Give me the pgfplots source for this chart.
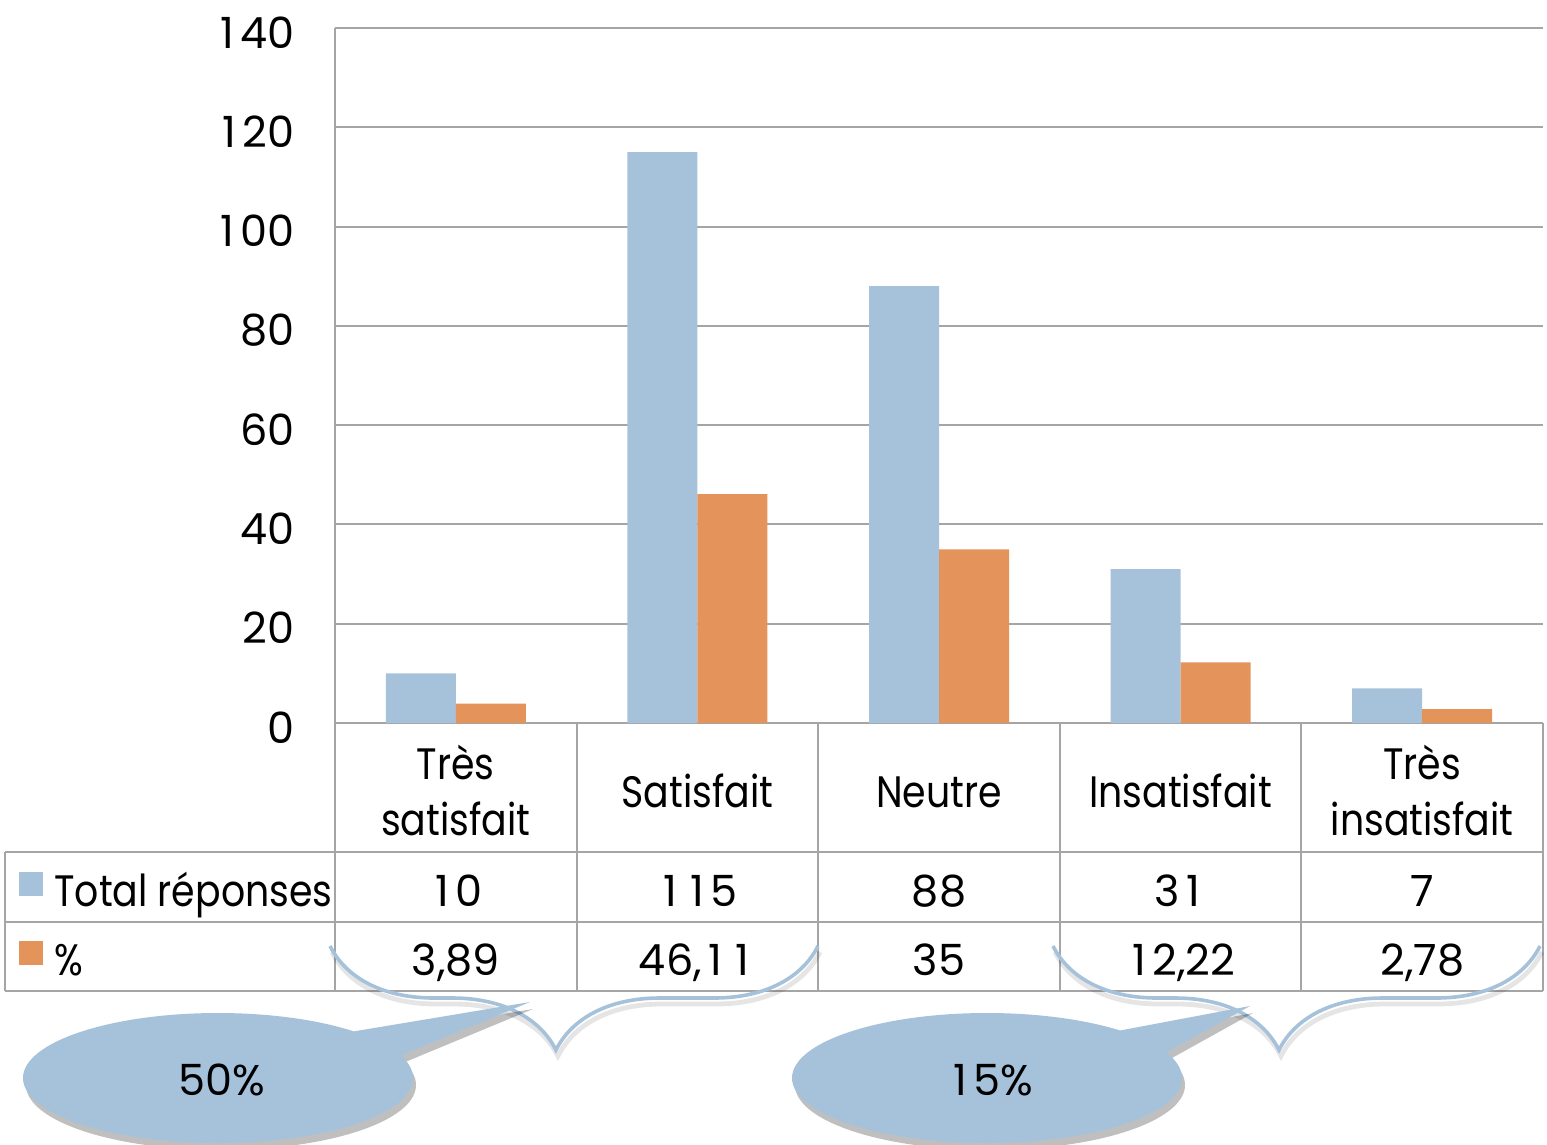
\documentclass[border=0pt]{standalone}
\usepackage{pgfplots}
\pgfplotsset{compat=1.18}
\usepackage{fontspec}
\setmainfont[FakeStretch=0.86]{Poppins}
\newfontfamily\numfont{Poppins}
\usetikzlibrary{decorations.pathreplacing,shadows}
\definecolor{barblue}{RGB}{166,194,219}
\definecolor{barorange}{RGB}{228,147,90}
\definecolor{linegray}{RGB}{165,165,165}
\newcommand{\cf}{\fontsize{22}{26}\selectfont}
\newcommand{\nf}{\numfont\fontsize{21.5}{26}\selectfont}
% tabular-width "1", as in the reference font
\newcommand{\one}{\makebox[\fontcharwd\font`0]{1}}

\begin{document}
\begin{tikzpicture}
\useasboundingbox (0pt,0pt) rectangle (773.5pt,-572.5pt);
\begin{axis}[
  at={(167.5pt,-361.5pt)}, anchor=south west,
  width=604pt, height=347.5pt, scale only axis,
  xmin=-0.5, xmax=4.5, ymin=0, ymax=140,
  ytick={0,20,...,140}, xtick=\empty,
  yticklabels={0,20,40,60,80,\one00,\one20,\one40},
  axis x line*=bottom, axis y line*=left,
  axis line style={linegray, line width=1pt, -},
  ymajorgrids, grid style={linegray, line width=1pt},
  major tick length=0pt,
  ybar=0pt, bar width=35pt,
  yticklabel style={font=\nf, anchor=base east, inner sep=0pt, xshift=-20pt, yshift=-10pt},
  /pgf/number format/assume math mode=true,
  clip=false,
]
\addplot[fill=barblue, draw=none] coordinates {(0,10) (1,115) (2,88) (3,31) (4,7)};
\addplot[fill=barorange, draw=none] coordinates {(0,3.89) (1,46.11) (2,35) (3,12.22) (4,2.78)};
\end{axis}
\begin{scope}[x=0.5pt, y=-0.5pt]
  % table grid
  \draw[linegray, line width=1pt]
    (335,723) -- (335,991)
    (576.6,723) -- (576.6,991)
    (818.2,723) -- (818.2,991)
    (1059.8,723) -- (1059.8,991)
    (1301.4,723) -- (1301.4,991)
    (1543,723) -- (1543,991)
    (5,852) -- (5,991)
    (5,852) -- (1543,852)
    (5,922) -- (1543,922)
    (5,991) -- (1543,991);
  % header row
  \begin{scope}[every node/.style={anchor=base, inner sep=0pt, font=\cf}]
    \node at (455.8,779) {Très};
    \node at (455.8,835) {satisfait};
    \node at (697.4,807) {Satisfait};
    \node at (939,807) {Neutre};
    \node at (1180.6,807) {Insatisfait};
    \node at (1422.2,779) {Très};
    \node at (1422.2,835) {insatisfait};
    \node[anchor=base west] at (54,906) {Total réponses};
    \node[anchor=base west] at (54,975) {\%};
  \end{scope}
  % values
  \begin{scope}[every node/.style={anchor=base, inner sep=0pt, font=\nf}]
    \node at (455.8,906) {\one0};
    \node at (697.4,906) {\one\one5};
    \node at (939,906) {88};
    \node at (1180.6,906) {3\one};
    \node at (1422.2,906) {7};
    \node at (455.8,975) {3,89};
    \node at (697.4,975) {46,\one\one};
    \node at (939,975) {35};
    \node at (1180.6,975) {\one2,22};
    \node at (1422.2,975) {2,78};
  \end{scope}
  \fill[barblue] (19,872) rectangle (43,896);
  \fill[barorange] (19,941) rectangle (43,965);
  % braces
  \draw[black, opacity=0.1, line width=2.4pt, decorate,
    decoration={brace, amplitude=52pt, aspect=0.537}] (820,952) -- (332,952);
  \draw[barblue, line width=1.8pt, decorate,
    decoration={brace, amplitude=52pt, aspect=0.537}] (818,946) -- (330,946);
  \draw[black, opacity=0.1, line width=2.4pt, decorate,
    decoration={brace, amplitude=52pt, aspect=0.536}] (1542,952) -- (1055,952);
  \draw[barblue, line width=1.8pt, decorate,
    decoration={brace, amplitude=52pt, aspect=0.536}] (1540,946) -- (1053,946);
  % callouts
  \fill[barblue, drop shadow={shadow xshift=1.5pt, shadow yshift=-3.5pt, opacity=0.25, fill=black}]
    (218,1078) ellipse [x radius=195, y radius=65]
    (350,1032) -- (530,1002) -- (395,1058) -- cycle;
  \fill[barblue, drop shadow={shadow xshift=1.5pt, shadow yshift=-3.5pt, opacity=0.25, fill=black}]
    (987,1078) ellipse [x radius=195, y radius=65]
    (1112,1032) -- (1250,1006) -- (1160,1056) -- cycle;
  \node[font=\nf, anchor=base, inner sep=0pt] at (222,1095) {50\%};
  \node[font=\nf, anchor=base, inner sep=0pt] at (990,1095) {\one5\%};
\end{scope}
\end{tikzpicture}
\end{document}
